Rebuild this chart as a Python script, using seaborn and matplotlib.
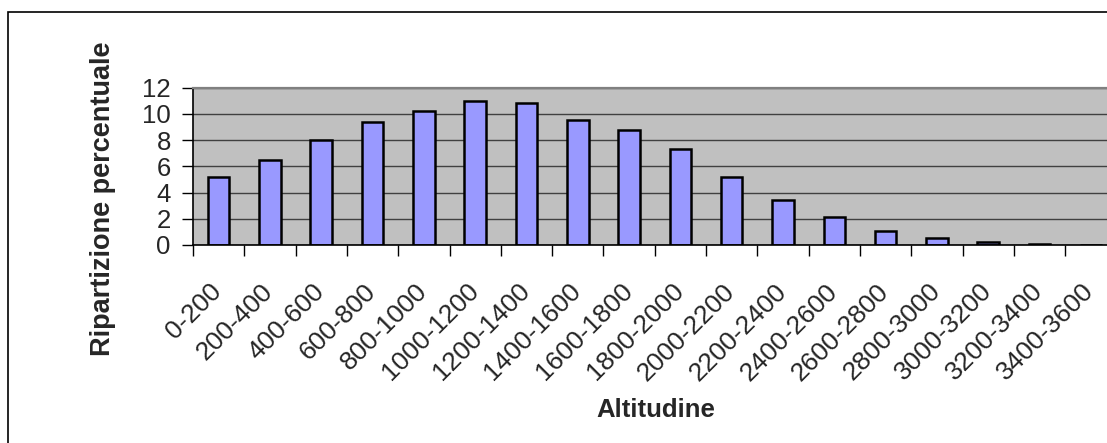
import numpy as np
import pandas as pd
import matplotlib
matplotlib.use('Agg')
import matplotlib.pyplot as plt
import matplotlib.transforms as mtransforms
from matplotlib.patches import Rectangle
import seaborn as sns

# Altitude bands and percentage share
altitudeBands = ['0-200', '200-400', '400-600', '600-800', '800-1000', '1000-1200',
                 '1200-1400', '1400-1600', '1600-1800', '1800-2000', '2000-2200',
                 '2200-2400', '2400-2600', '2600-2800', '2800-3000', '3000-3200',
                 '3200-3400', '3400-3600']
sharePercent = [5.2, 6.45, 8.02, 9.34, 10.18, 10.94, 10.79, 9.52, 8.75, 7.28,
                5.15, 3.4, 2.16, 1.09, 0.56, 0.23, 0.08, 0.0]
yTicks = [0, 2, 4, 6, 8, 10, 12]


def plotDistribution(outputPath='out.png'):
    sns.set_style('white')
    plt.rcParams['font.family'] = ['Liberation Sans', 'DejaVu Sans']

    df = pd.DataFrame({'band': altitudeBands, 'share': sharePercent})

    fig = plt.figure(figsize=(11.07, 4.43), dpi=100)
    # plot area runs past the right edge, like the cropped original
    ax = fig.add_axes([193 / 1107, 1 - 245 / 443, 923.5 / 1107, 157.5 / 443])
    ax.set_facecolor('#C0C0C0')

    sns.barplot(data=df, x='band', y='share', color='#9999FF', saturation=1,
                width=0.42, edgecolor='black', linewidth=1.8, ax=ax)

    nBands = len(altitudeBands)
    ax.set_xlim(-0.5, nBands - 0.5)
    ax.set_ylim(0, 12)
    ax.set_yticks(yTicks)
    ax.tick_params(axis='y', which='major', direction='out', length=8, width=1,
                   color='black', pad=8, labelsize=18.5, left=True)

    # tick marks on category boundaries, labels at centres
    ax.set_xticks(np.arange(-0.5, nBands, 1))
    ax.set_xticklabels([])
    ax.set_xticks(np.arange(nBands), minor=True)
    ax.set_xticklabels(altitudeBands, minor=True, rotation=45, ha='right',
                       va='top', rotation_mode='anchor', fontsize=19)
    ax.tick_params(axis='x', which='major', direction='out', length=8, width=1,
                   color='black', bottom=True)
    ax.tick_params(axis='x', which='minor', length=0, pad=24.5)
    shift = mtransforms.ScaledTranslation(-9 / 100, 0, fig.dpi_scale_trans)
    for label in ax.get_xticklabels(minor=True):
        label.set_transform(label.get_transform() + shift)

    ax.yaxis.grid(True, color='#404040', linewidth=1)
    ax.set_axisbelow(True)

    for side in ['left', 'bottom']:
        ax.spines[side].set_color('black')
        ax.spines[side].set_linewidth(1.2)
    ax.spines['top'].set_color('#808080')
    ax.spines['top'].set_linewidth(1.6)
    ax.spines['right'].set_visible(False)

    ax.set_xlabel('Altitudine', fontsize=18.5, fontweight='bold', va='center')
    ax.xaxis.set_label_coords(0.501, -1.048)
    ax.set_ylabel('Ripartizione percentuale', fontsize=19.5, fontweight='bold', va='center')
    ax.yaxis.set_label_coords(-0.0975, 0.292)

    # outer chart frame, cut off at right and bottom
    frame = Rectangle((8 / 1107, -0.2), 1.2, (443 - 12) / 443 + 0.2,
                      transform=fig.transFigure, fill=False, edgecolor='black', linewidth=1.2)
    fig.add_artist(frame)

    fig.savefig(outputPath, dpi=100)
    plt.close(fig)
    print(f'[SUCCESS]: chart saved to {outputPath}')


if __name__ == "__main__":
    plotDistribution()
